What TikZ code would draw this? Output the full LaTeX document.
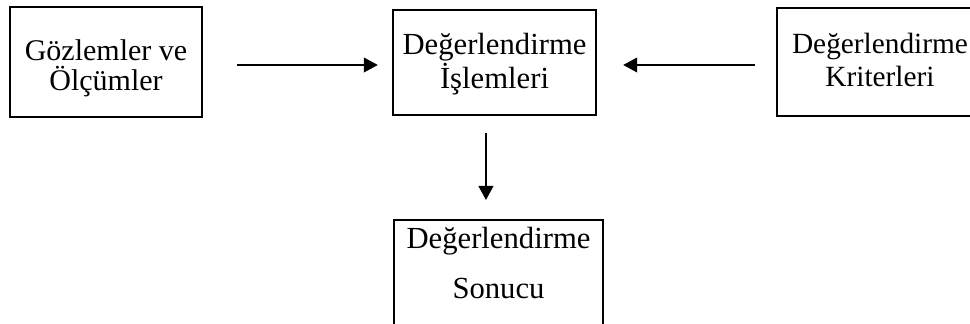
\documentclass[tikz,border=0pt]{standalone}
\usepackage{fontspec}
\setmainfont{Liberation Serif}
\usetikzlibrary{arrows.meta}
\tikzset{
	kutu/.style={draw, line width=1.8pt, align=center, inner sep=0pt,
		font=\fontsize{23}{25.5}\selectfont},
	ok/.style={line width=1.4pt, -{Triangle[length=10.5pt, width=11pt]}}
}

\begin{document}
\begin{tikzpicture}[x=0.75pt, y=0.75pt]
			%%%%% START %%%%%
			\useasboundingbox (0, 0) rectangle (970, 324);
			\clip (0, 0) rectangle (970, 324);
			
			\node[kutu, font=\fontsize{22.5}{22.5}\selectfont, minimum width=144pt, minimum height=82.5pt] (gozlem) at (106, 262) {\rule{0pt}{25.5pt}Gözlemler ve\\Ölçümler};
			\node[kutu, minimum width=152.25pt, minimum height=78.75pt] (islem) at (494.5, 261.5) {\rule{0pt}{19pt}Değerlendirme\\İşlemleri};
			\node[kutu, font=\fontsize{22}{24.75}\selectfont, minimum width=154.5pt, minimum height=81pt] (kriter) at (880, 262) {Değerlendirme\\Kriterleri\rule[-4pt]{0pt}{0pt}};
			
			\node[kutu, anchor=north, minimum width=156.75pt, inner ysep=5.4pt, text depth=70pt] (sonuc) at (498.5, 105) {Değerlendirme\\[12pt]Sonucu};
			
			\draw[ok, shorten <=25.5pt, shorten >=10.5pt] ([yshift=-2.25pt]gozlem.east) -- ([yshift=-2.25pt]gozlem.east -| islem.west);
			\draw[ok, shorten <=15.75pt, shorten >=19.5pt] ([yshift=-2.25pt]kriter.west) -- ([yshift=-2.25pt]kriter.west -| islem.east);
			\draw[ok, shorten <=12.75pt, shorten >=14.25pt] ([xshift=-6.4pt]islem.south) -- ([xshift=-6.4pt]islem.south |- sonuc.north);
			
			%%%%% END %%%%%
\end{tikzpicture}
\end{document}
